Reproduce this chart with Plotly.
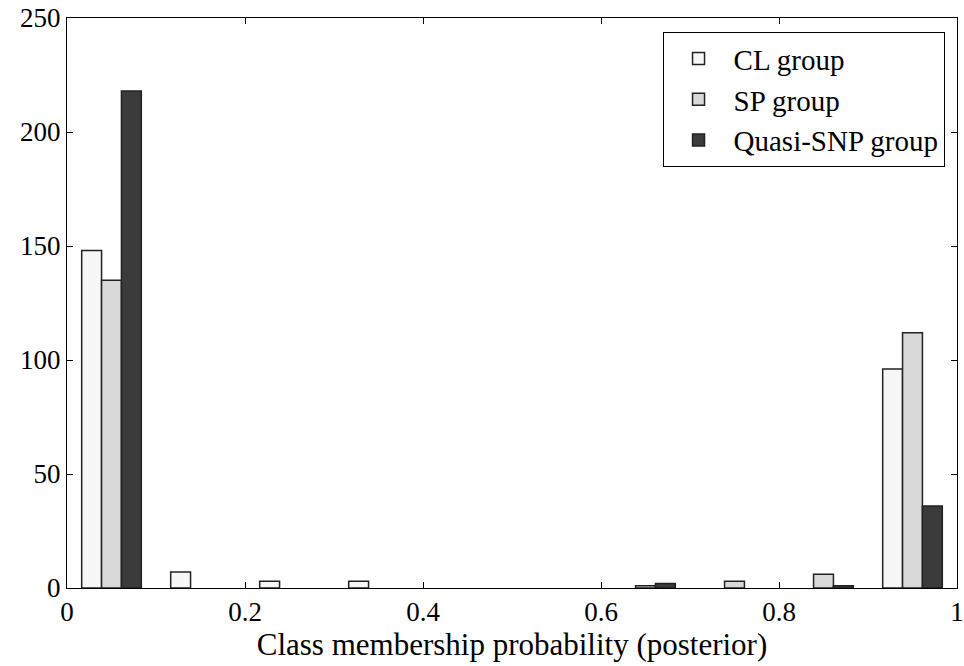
import plotly.graph_objects as go

bins = [0.05, 0.15, 0.25, 0.35, 0.45, 0.55, 0.65, 0.75, 0.85, 0.95]
cl_group = [148, 7, 3, 3, 0, 0, 0, 0, 0, 96]
sp_group = [135, 0, 0, 0, 0, 0, 1, 3, 6, 112]
quasi_snp_group = [218, 0, 0, 0, 0, 0, 2, 0, 1, 36]

series_names = ["CL group", "SP group", "Quasi-SNP group"]
series_values = [cl_group, sp_group, quasi_snp_group]
series_colors = ["#f7f7f7", "#d9d9d9", "#3b3b3b"]

x_ticks = [0, 0.2, 0.4, 0.6, 0.8, 1]
x_tick_labels = ["0", "0.2", "0.4", "0.6", "0.8", "1"]
y_ticks = [0, 50, 100, 150, 200, 250]

fig = go.Figure()
for name, vals, col in zip(series_names, series_values, series_colors):
    # empty bins are not drawn (no outline on the baseline)
    shown = [v if v != 0 else None for v in vals]
    fig.add_trace(go.Bar(
        x=bins, y=shown, name=name,
        marker=dict(color=col, line=dict(color="#222222", width=1.5)),
    ))

font_family = "Liberation Serif, Times New Roman, serif"
fig.update_layout(
    width=964, height=666,
    margin=dict(l=67, r=7, t=18, b=78, autoexpand=False),
    plot_bgcolor="white", paper_bgcolor="white",
    barmode="group", bargap=0.33, bargroupgap=0,
    font=dict(family=font_family, size=27, color="black"),
    showlegend=True,
    legend=dict(
        x=0.986, y=0.975, xanchor="right", yanchor="top",
        bgcolor="white", bordercolor="black", borderwidth=1,
        font=dict(family=font_family, size=29, color="black"),
        itemwidth=60, tracegroupgap=0,
    ),
)
fig.update_xaxes(
    range=[0, 1], tickvals=x_ticks, ticktext=x_tick_labels,
    ticks="inside", ticklen=6, tickcolor="black",
    showline=True, linecolor="black", linewidth=1, mirror="ticks",
    showgrid=False, zeroline=False, automargin=False,
    title=dict(text="Class membership probability (posterior)", font=dict(family=font_family, size=31), standoff=2),
    tickfont=dict(family=font_family, size=27),
)
fig.update_yaxes(
    range=[0, 250], tickvals=y_ticks,
    ticks="inside", ticklen=6, tickcolor="black",
    showline=True, linecolor="black", linewidth=1, mirror="ticks",
    showgrid=False, zeroline=False, automargin=False,
    tickfont=dict(family=font_family, size=27),
)

fig.write_html("out.html")
